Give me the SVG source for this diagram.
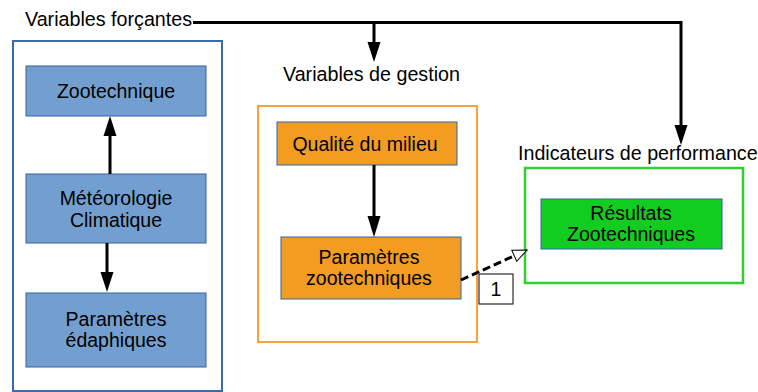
<svg xmlns="http://www.w3.org/2000/svg" width="758" height="392" viewBox="0 0 758 392">
<defs>
<style>
text{font-family:"Liberation Sans",Arial,sans-serif;font-size:19.5px;fill:#000}
.big{font-size:19.7px}
.c{text-anchor:middle}
.blue{fill:#729fcf;stroke:#3465a4;stroke-width:1}
.orange{fill:#f39c22;stroke:#3465a4;stroke-width:1}
.green{fill:#12cc1f;stroke:#3465a4;stroke-width:1}
.conn{stroke:#000;stroke-width:3;fill:none}
</style>
<marker id="open" viewBox="0 0 16 14" refX="15" refY="7" markerWidth="16" markerHeight="14" markerUnits="userSpaceOnUse" orient="auto">
<path d="M1,1 L15,7 L1,13 Z" fill="#fff" stroke="#000" stroke-width="1"/>
</marker>
</defs>
<rect width="758" height="392" fill="#fff"/>

<g id="labels">
<text class="big" x="25" y="26">Variables forçantes</text>
<text class="big" x="283" y="81">Variables de gestion</text>
<text class="big" x="518" y="160">Indicateurs de performance</text>
</g>

<g id="group-blue"><rect x="13" y="41" width="209" height="350" fill="none" stroke="#3a6aa8" stroke-width="2"/></g>
<g id="group-orange"><rect x="258" y="106" width="219" height="236" fill="none" stroke="#f7a33a" stroke-width="2"/></g>
<g id="group-green"><rect x="525" y="168" width="218" height="115" fill="none" stroke="#2fd02f" stroke-width="2.5"/></g>

<g id="zootechnique"><rect class="blue" x="26" y="66" width="180" height="50"/><text class="c" x="116" y="98">Zootechnique</text></g>
<g id="meteorologie"><rect class="blue" x="26" y="174" width="180" height="69"/><text class="c" x="116" y="205">Météorologie</text><text class="c" x="116" y="227">Climatique</text></g>
<g id="edaphiques"><rect class="blue" x="26" y="293" width="180" height="74"/><text class="c" x="116" y="326">Paramètres</text><text class="c" x="116" y="347">édaphiques</text></g>

<g id="qualite"><rect class="orange" x="277" y="122" width="180" height="43"/><text class="c" x="365" y="151">Qualité du milieu</text></g>
<g id="zootech-params"><rect class="orange" x="281" y="237" width="180" height="62"/><text class="c" x="369" y="264">Paramètres</text><text class="c" x="369" y="285">zootechniques</text></g>

<g id="resultats"><rect class="green" x="541" y="199" width="181" height="50"/><text class="c" x="631" y="220">Résultats</text><text class="c" x="631" y="241">Zootechniques</text></g>

<g id="connectors">
<path class="conn" d="M193,22.5 H681 V125" />
<path d="M674.5,125 L687.5,125 L681,145 Z" fill="#000"/>
<path class="conn" d="M374,22.5 V43"/>
<path d="M367.5,42 L380.5,42 L374,62 Z" fill="#000"/>
<path class="conn" d="M110,174 V135"/>
<path d="M103.5,136 L116.5,136 L110,116 Z" fill="#000"/>
<path class="conn" d="M107,243 V273"/>
<path d="M100.5,272 L113.5,272 L107,292 Z" fill="#000"/>
<path class="conn" d="M374,165 V217"/>
<path d="M367.5,216 L380.5,216 L374,237 Z" fill="#000"/>
<path class="conn" d="M461,280 L527,250" stroke-dasharray="8,4" marker-end="url(#open)"/>
</g>

<g id="label-1"><rect x="479" y="274" width="34" height="30" fill="#fff" stroke="#000" stroke-width="1"/><text class="c" x="496" y="296">1</text></g>
</svg>
